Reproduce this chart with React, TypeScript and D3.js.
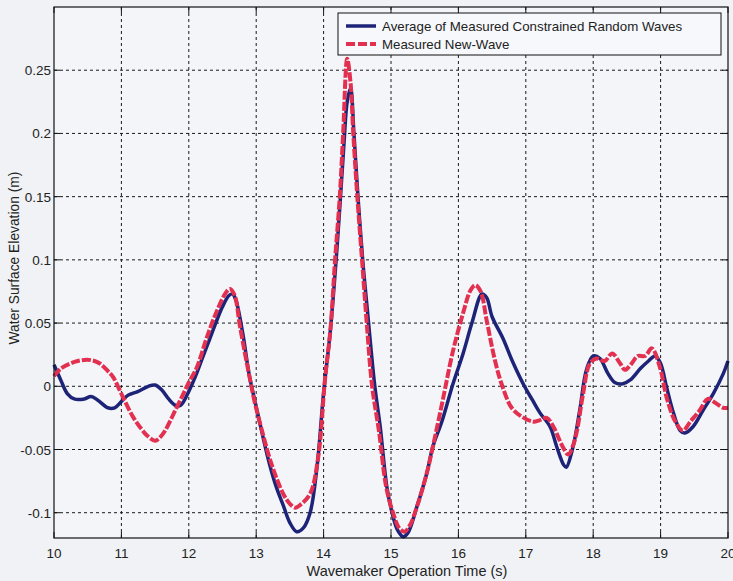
import React from "react";
import * as d3 from "d3";

// Average of measured constrained random waves: time (s), elevation (m)
const avgTime = [
  10.0, 10.1, 10.2, 10.3, 10.45, 10.55, 10.65, 10.8, 10.9, 11.0, 11.1, 11.25, 11.4, 11.5, 11.6, 11.7, 11.8, 11.88,
  12.0, 12.1, 12.2, 12.3, 12.4, 12.5, 12.6, 12.65, 12.7, 12.8, 12.9, 13.0, 13.1, 13.2, 13.3, 13.4, 13.5, 13.6,
  13.7, 13.8, 13.9, 14.0, 14.1, 14.2, 14.3, 14.35, 14.4, 14.45, 14.51, 14.58, 14.65, 14.76, 14.84, 14.94, 15.03,
  15.1, 15.18, 15.25, 15.38, 15.53, 15.62, 15.76, 15.92, 16.07, 16.2, 16.35, 16.42, 16.5, 16.66, 16.8, 16.98,
  17.1, 17.21, 17.36, 17.46, 17.56, 17.6, 17.7, 17.8, 17.9, 18.0, 18.1, 18.22, 18.32, 18.44, 18.55, 18.7, 18.82,
  18.92, 19.0, 19.09, 19.19, 19.29, 19.36, 19.48, 19.63, 19.78, 19.93, 20.0,
];
const avgElev = [
  0.017, 0.005, -0.006, -0.01, -0.01, -0.008, -0.011, -0.017, -0.017, -0.012, -0.007, -0.004, 0.0, 0.001, -0.003,
  -0.01, -0.015, -0.015, -0.004, 0.008, 0.022, 0.036, 0.05, 0.063, 0.072, 0.073, 0.068, 0.042, 0.008, -0.016, -0.04,
  -0.062, -0.08, -0.094, -0.108, -0.115, -0.112, -0.1, -0.065, -0.005, 0.044, 0.11, 0.19, 0.225, 0.236, 0.2, 0.15,
  0.1, 0.06, 0.0, -0.032, -0.08, -0.103, -0.114, -0.119, -0.116, -0.096, -0.069, -0.048, -0.027, 0.002, 0.026,
  0.05, 0.073, 0.07, 0.055, 0.038, 0.02, 0.0, -0.011, -0.021, -0.032, -0.048, -0.062, -0.064, -0.048, -0.019,
  0.013, 0.024, 0.022, 0.01, 0.003, 0.002, 0.005, 0.014, 0.02, 0.024, 0.018, -0.001, -0.021, -0.035, -0.037,
  -0.032, -0.019, -0.006, 0.01, 0.02,
];

// Measured new-wave: time (s), elevation (m)
const newTime = [
  10.0, 10.1, 10.24, 10.35, 10.49, 10.6, 10.68, 10.8, 10.88, 11.0, 11.17, 11.3, 11.38, 11.5, 11.58, 11.65, 11.8,
  11.91, 12.0, 12.12, 12.27, 12.42, 12.55, 12.61, 12.68, 12.76, 12.91, 12.98, 13.1, 13.23, 13.4, 13.5, 13.58,
  13.65, 13.8, 13.92, 14.02, 14.1, 14.17, 14.24, 14.29, 14.35, 14.4, 14.44, 14.5, 14.57, 14.64, 14.72, 14.82,
  14.93, 15.03, 15.12, 15.2, 15.28, 15.38, 15.53, 15.62, 15.76, 15.92, 16.07, 16.18, 16.25, 16.33, 16.42, 16.54,
  16.64, 16.79, 16.94, 17.11, 17.2, 17.31, 17.41, 17.54, 17.63, 17.7, 17.76, 17.85, 17.95, 18.05, 18.17, 18.28,
  18.4, 18.47, 18.57, 18.66, 18.77, 18.87, 18.99, 19.09, 19.21, 19.33, 19.44, 19.58, 19.7, 19.81, 19.93, 20.0,
];
const newElev = [
  0.008, 0.014, 0.018, 0.02, 0.021, 0.02, 0.018, 0.012, 0.007, -0.006, -0.024, -0.034, -0.039, -0.043, -0.04,
  -0.035, -0.019, -0.007, 0.003, 0.015, 0.039, 0.06, 0.074, 0.077, 0.072, 0.047, 0.005, -0.013, -0.038, -0.062,
  -0.085, -0.093, -0.096, -0.094, -0.085, -0.056, 0.005, 0.044, 0.1, 0.15, 0.2, 0.259, 0.24, 0.2, 0.15, 0.1, 0.05,
  0.0, -0.035, -0.08, -0.1, -0.112, -0.115, -0.11, -0.096, -0.069, -0.048, -0.013, 0.028, 0.058, 0.076, 0.08,
  0.075, 0.052, 0.021, 0.002, -0.017, -0.024, -0.028, -0.027, -0.025, -0.032, -0.047, -0.054, -0.047, -0.035,
  -0.006, 0.018, 0.022, 0.02, 0.026, 0.018, 0.013, 0.018, 0.024, 0.024, 0.03, 0.015, -0.009, -0.027, -0.035,
  -0.028, -0.019, -0.01, -0.013, -0.017, -0.017,
];

const xTicks = [10, 11, 12, 13, 14, 15, 16, 17, 18, 19, 20];
const yTicks = [-0.1, -0.05, 0, 0.05, 0.1, 0.15, 0.2, 0.25];
const seriesNames = ["Average of Measured Constrained Random Waves", "Measured New-Wave"];

const W = 733;
const H = 581;
const left = 54;
const right = 728;
const top = 7;
const bottom = 538;
const FONT = "'Liberation Sans', Arial, Helvetica, sans-serif";
const BLUE = "#1d2478";
const RED = "#e33050";

export default function App() {
  const x = d3.scaleLinear().domain([10, 20]).range([left, right]);
  const y = d3.scaleLinear().domain([-0.12, 0.3]).range([bottom, top]);

  const line = d3
    .line<[number, number]>()
    .x((d) => x(d[0]))
    .y((d) => y(d[1]))
    .curve(d3.curveCatmullRom.alpha(0.5));

  const avgPts = avgTime.map((t, i) => [t, avgElev[i]] as [number, number]);
  const newPts = newTime.map((t, i) => [t, newElev[i]] as [number, number]);

  const fmt = (v: number) => String(+v.toFixed(2));

  return (
    <div style={{ position: "fixed", left: 0, top: 0 }}>
      <svg width={W} height={H} style={{ display: "block" }} fontFamily={FONT}>
        <rect x={0} y={0} width={W} height={H} fill="#f0f2f6" />
        <rect x={left} y={top} width={right - left} height={bottom - top} fill="#f3f5f9" />

        {/* grid */}
        <g stroke="#1a1a1a" strokeWidth={1} strokeDasharray="3,3">
          {xTicks.slice(1, -1).map((t) => (
            <line key={"gx" + t} x1={x(t)} x2={x(t)} y1={top} y2={bottom} />
          ))}
          {yTicks.map((t) => (
            <line key={"gy" + t} x1={left} x2={right} y1={y(t)} y2={y(t)} />
          ))}
        </g>

        {/* inward ticks on all four sides */}
        <g stroke="#111" strokeWidth={1}>
          {xTicks.map((t) => (
            <g key={"tx" + t}>
              <line x1={x(t)} x2={x(t)} y1={bottom} y2={bottom - 6} />
              <line x1={x(t)} x2={x(t)} y1={top} y2={top + 6} />
            </g>
          ))}
          {yTicks.map((t) => (
            <g key={"ty" + t}>
              <line x1={left} x2={left + 6} y1={y(t)} y2={y(t)} />
              <line x1={right} x2={right - 6} y1={y(t)} y2={y(t)} />
            </g>
          ))}
        </g>

        {/* series */}
        <path d={line(avgPts) || ""} fill="none" stroke={BLUE} strokeWidth={3.5} strokeLinejoin="round" />
        <path
          d={line(newPts) || ""}
          fill="none"
          stroke={RED}
          strokeWidth={4}
          strokeDasharray="9,2"
          strokeLinejoin="round"
        />

        <rect x={left} y={top} width={right - left} height={bottom - top} fill="none" stroke="#111" strokeWidth={1.2} />

        {/* tick labels */}
        <g fontSize={13.5} fill="#222">
          {xTicks.map((t) => (
            <text key={"lx" + t} x={x(t)} y={558} textAnchor="middle">
              {t}
            </text>
          ))}
          {yTicks.map((t) => (
            <text key={"ly" + t} x={51} y={y(t) + 5} textAnchor="end">
              {fmt(t)}
            </text>
          ))}
        </g>

        {/* axis titles */}
        <text x={(left + right) / 2 + 16} y={576} textAnchor="middle" fontSize={14.5} fill="#222">
          Wavemaker Operation Time (s)
        </text>
        <text
          transform={`translate(19, 258) rotate(-90)`}
          textAnchor="middle"
          fontSize={13.8}
          fill="#222"
        >
          Water Surface Elevation (m)
        </text>

        {/* legend */}
        <g>
          <rect x={338} y={13} width={383} height={42} fill="#f7f8fb" stroke="#111" strokeWidth={1} />
          <line x1={346} x2={376} y1={26} y2={26} stroke={BLUE} strokeWidth={3.5} />
          <line x1={346} x2={376} y1={44} y2={44} stroke={RED} strokeWidth={4} strokeDasharray="9,3" />
          <text x={382} y={31} fontSize={13.3} fill="#222">
            {seriesNames[0]}
          </text>
          <text x={382} y={49} fontSize={13.3} fill="#222">
            {seriesNames[1]}
          </text>
        </g>
      </svg>
    </div>
  );
}
